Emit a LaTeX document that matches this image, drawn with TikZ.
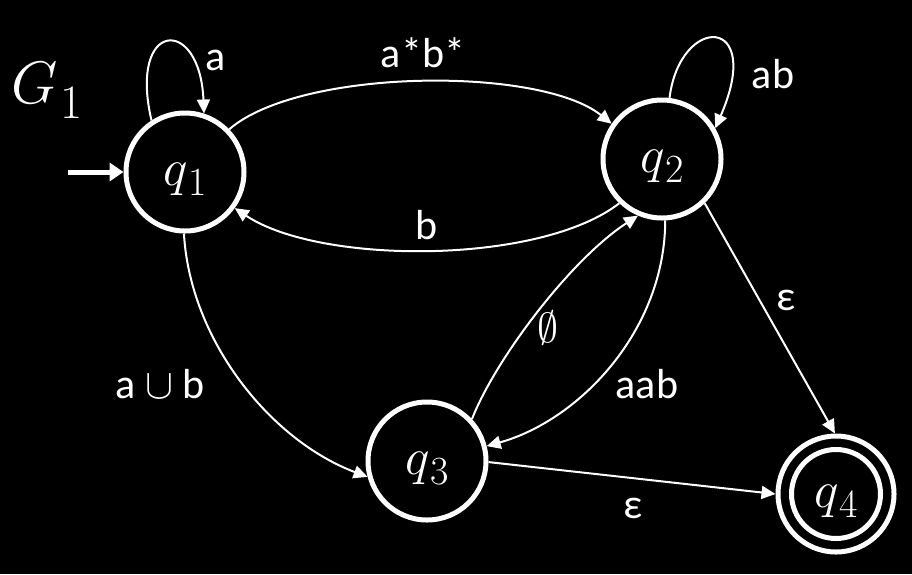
\RequirePackage{fix-cm}
\documentclass[tikz,border=0pt]{standalone}
\usepackage{fontspec}
\newfontfamily\lab{Carlito}
\usetikzlibrary{arrows.meta}
\newcommand{\qn}[1]{{\fontsize{52}{52}\selectfont$q$}\kern1pt\raisebox{-10pt}{\fontsize{40}{40}\selectfont #1}}
\tikzset{
  state/.style={circle, draw=white, line width=5pt, minimum size=118pt, inner sep=0pt, text=white, text height=30pt, text depth=4pt},
  edge/.style={draw=white, line width=2pt, -{Triangle[length=14pt,width=13pt]}},
  lbl/.style={text=white, font=\lab\fontsize{42}{48}\selectfont, inner sep=0pt, anchor=base},
}
\begin{document}
\begin{tikzpicture}[x=1pt,y=-1pt]
\fill[black] (0,0) rectangle (912,574);
\useasboundingbox (0,0) rectangle (912,574);

\node[state] (q1) at (185,172) {\qn{1}};
\node[state] (q2) at (662,159) {\qn{2}};
\node[state] (q3) at (427,461) {\qn{3}};
\node[state, minimum size=116pt] (q4) at (836,494) {\qn{4}};
\draw[white, line width=5pt] (q4.center) circle[radius=44.5pt];

\node[text=white, inner sep=0pt, anchor=base west] (G) at (11,103) {\fontsize{60}{60}\selectfont$G$\kern3pt\raisebox{-15pt}{\fontsize{48}{48}\selectfont 1}};

\coordinate (start) at (68,172);
\draw[white, line width=5pt, -{Triangle[length=14pt,width=18pt]}] (start) -- (q1.180);

\draw[edge] (q1.123) .. controls (128,20) and (200,15) .. (q1.72);
\node[lbl] (la) at (216,70) {a};

\draw[edge] (q1.44) .. controls (300,68) and (540,66) .. (q2.145);
\node[lbl] (lab1) at (423,67) {a*b*};

\draw[edge] (q2.-134) .. controls (540,265) and (320,265) .. (q1.-36);
\node[lbl] (lb) at (427,239) {b};

\draw[edge] (q2.83) .. controls (680,14) and (765,14) .. (q2.30);
\node[lbl] (lab2) at (773,88) {ab};

\draw[edge] (q1.-91) .. controls (190,340) and (270,440) .. (q3.-165);
\node[lbl] (lunion) at (160,398) {a $\cup$ b};

\draw[edge] (q3.43) .. controls (495,360) and (570,260) .. (q2.-113);
\node[lbl, anchor=center] (lempty) at (548,328) {$\emptyset$};

\draw[edge] (q2.-87) .. controls (665,330) and (580,420) .. (q3.14);
\node[lbl] (laab) at (647,398) {aab};

\draw[edge] (q2.-46) -- (q4.91);
\node[lbl] (le1) at (786,310) {ε};

\draw[edge] (q3.-1) -- (q4.180);
\node[lbl] (le2) at (633,518) {ε};
\end{tikzpicture}
\end{document}
